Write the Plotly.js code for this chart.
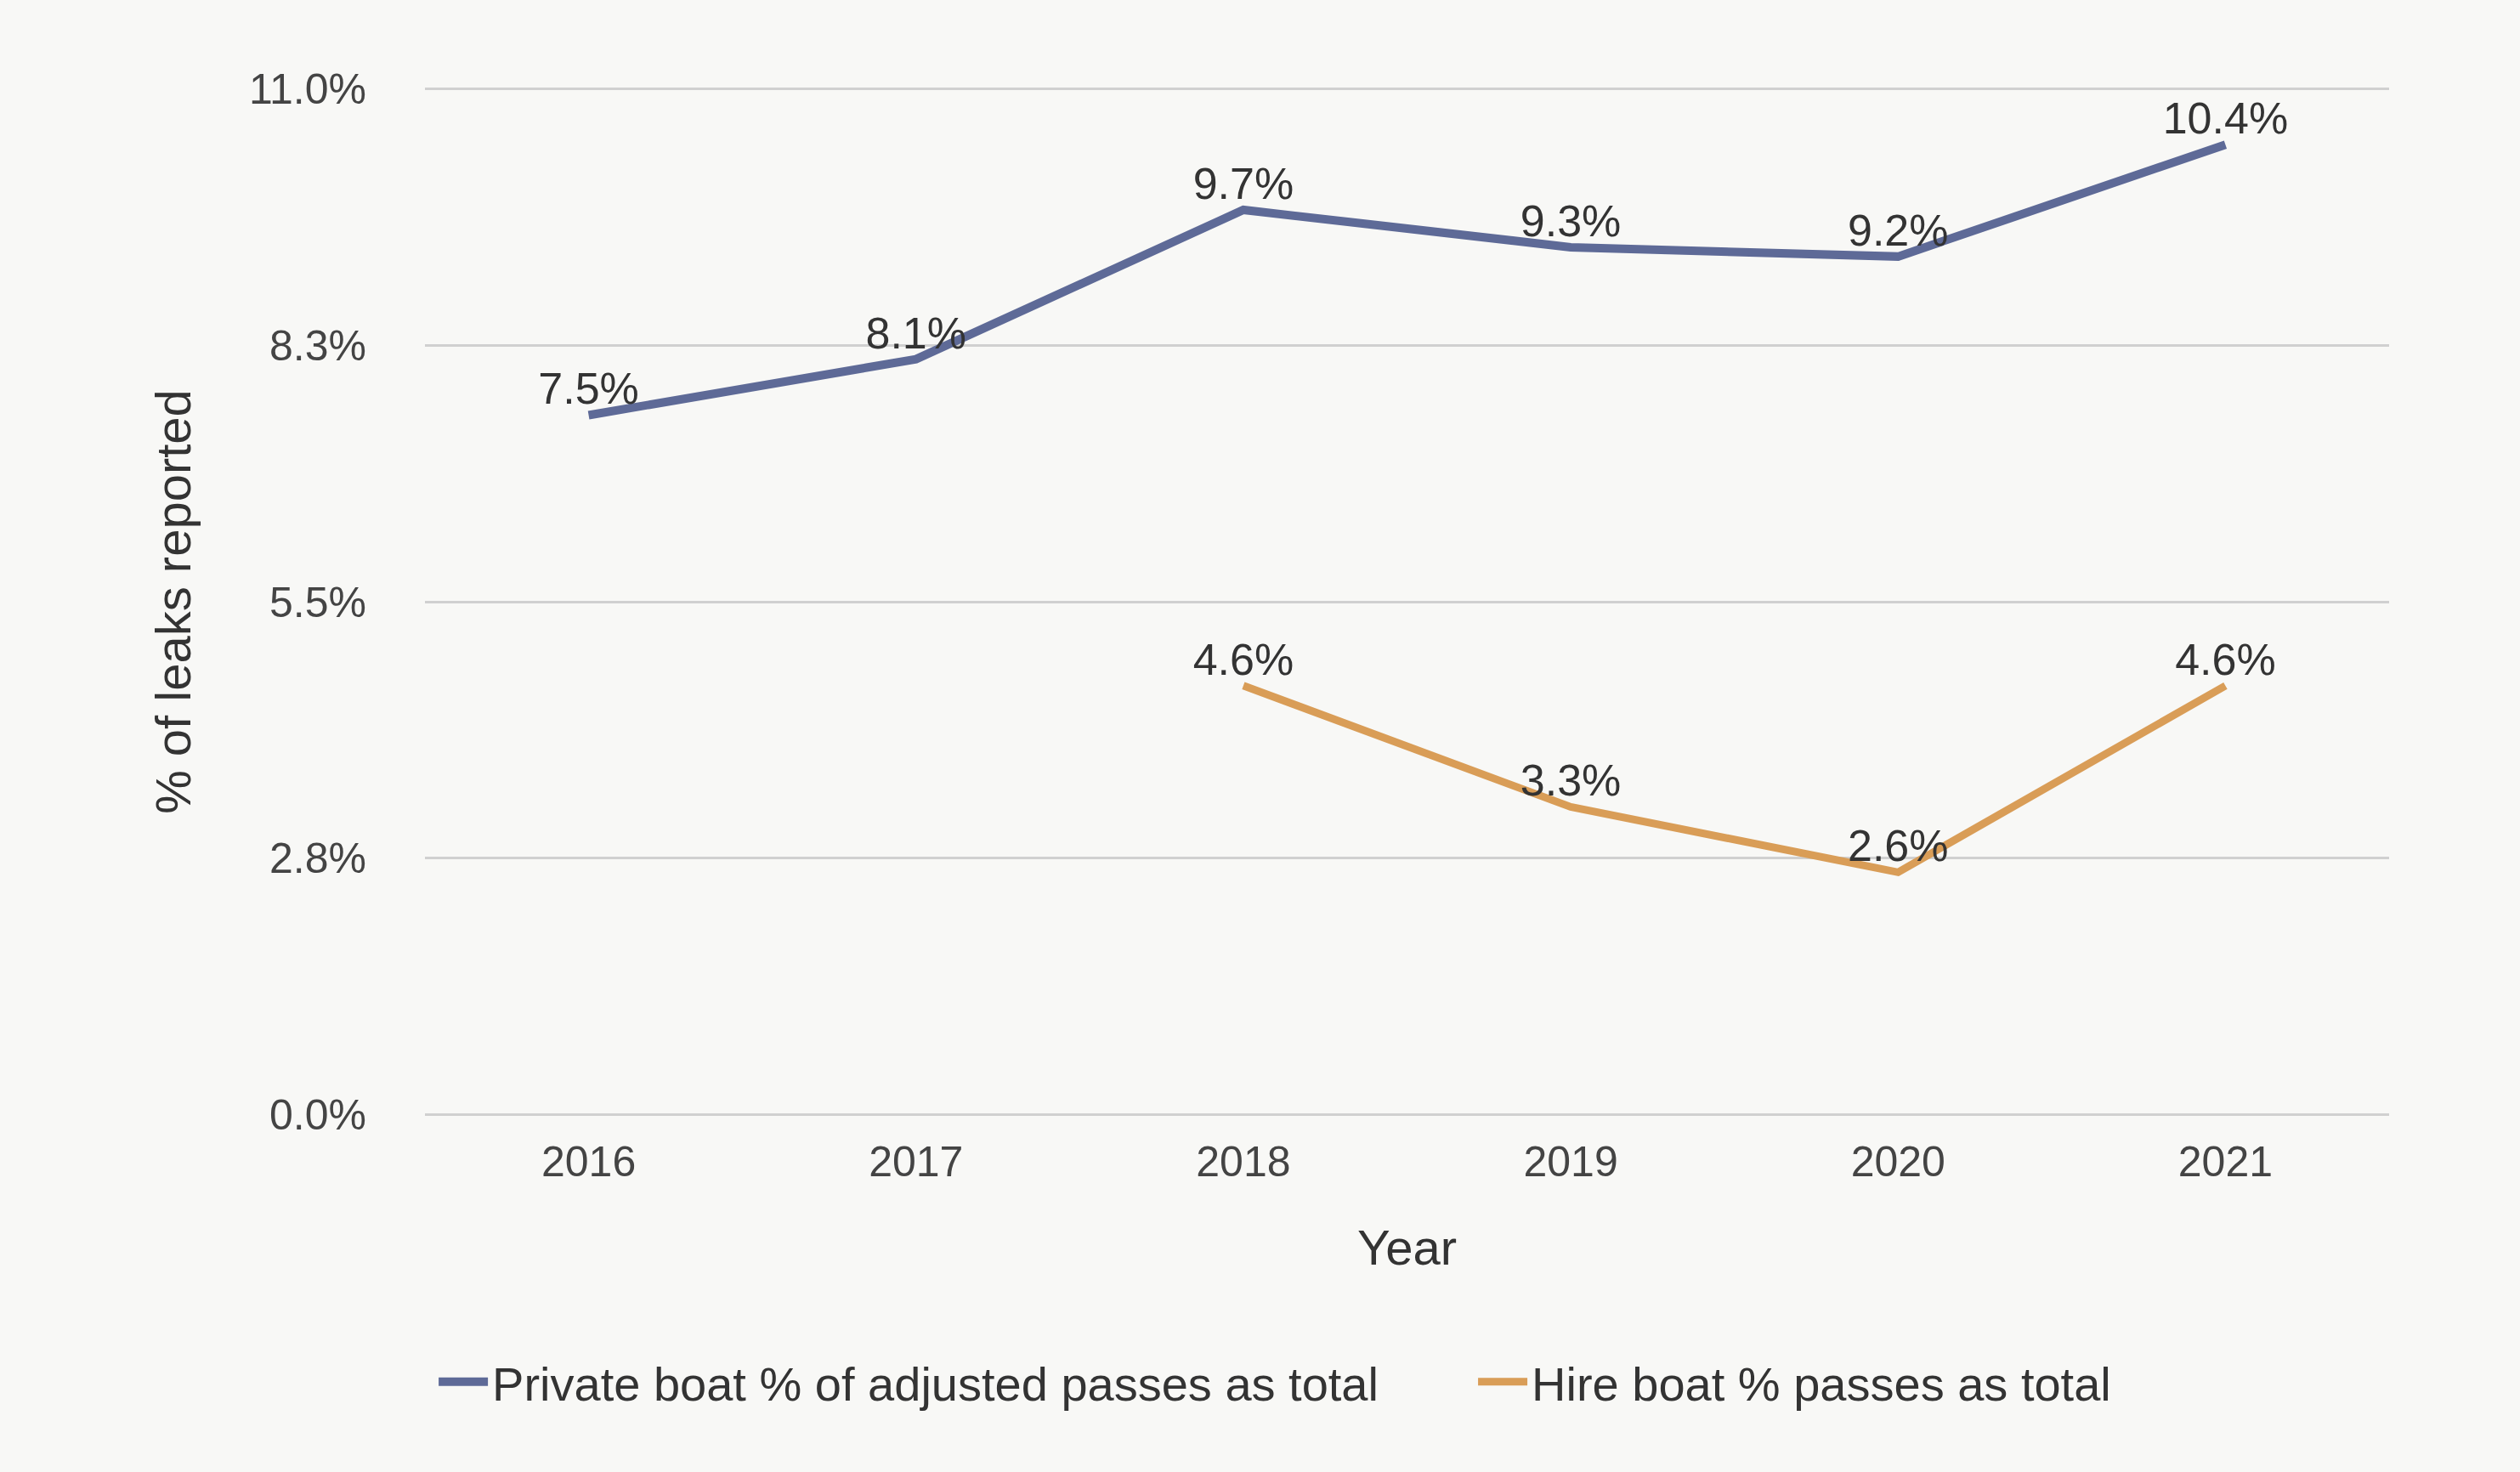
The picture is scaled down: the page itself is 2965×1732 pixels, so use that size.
<!DOCTYPE html>
<html>
<head>
<meta charset="utf-8">
<script src="https://cdn.plot.ly/plotly-3.0.1.min.js"></script>
<style>
  html, body { margin: 0; padding: 0; background: #f8f8f6; }
  #chart { width: 2965px; height: 1732px; }
</style>
</head>
<body>
<div id="chart"></div>
<script>
const years = ['2016', '2017', '2018', '2019', '2020', '2021'];
const privateBoat = [7.5, 8.1, 9.7, 9.3, 9.2, 10.4];
const hireBoat = [null, null, 4.6, 3.3, 2.6, 4.6];
const seriesNames = ['Private boat % of adjusted passes as total', 'Hire boat % passes as total'];
const yTickVals = [0, 2.75, 5.5, 8.25, 11];
const yTickText = ['0.0%', '2.8%', '5.5%', '8.3%', '11.0%'];

const font = 'Liberation Sans, Arial, sans-serif';

function labels(arr) { return arr.map(v => v === null ? '' : v.toFixed(1) + '%'); }

const traces = [
  {
    x: years, y: privateBoat, name: seriesNames[0], type: 'scatter', mode: 'lines+text',
    line: { color: '#5e6a97', width: 10 },
    text: labels(privateBoat), textposition: 'top center',
    textfont: { family: font, size: 52, color: '#333333' },
    cliponaxis: false, legend: 'legend'
  },
  {
    x: years, y: hireBoat, name: seriesNames[1], type: 'scatter', mode: 'lines+text',
    line: { color: '#d99d57', width: 9 },
    text: labels(hireBoat), textposition: 'top center',
    textfont: { family: font, size: 52, color: '#333333' },
    cliponaxis: false, legend: 'legend2'
  }
];

const legendBase = {
  orientation: 'h', xref: 'paper', xanchor: 'left', y: -0.256, yanchor: 'middle',
  font: { family: font, size: 56, color: '#333333' },
  bgcolor: 'rgba(0,0,0,0)', itemwidth: 58
};

const layout = {
  width: 2965, height: 1732,
  paper_bgcolor: '#f8f8f6', plot_bgcolor: '#f8f8f6',
  font: { family: font, color: '#444444', size: 52 },
  margin: { l: 500, r: 154, t: 101, b: 417 },
  showlegend: true,
  legend: Object.assign({}, legendBase, { x: 0.0048 }),
  legend2: Object.assign({}, legendBase, { x: 0.534 }),
  xaxis: {
    type: 'category', range: [-0.5, 5.5],
    showgrid: false, zeroline: false, showline: false,
    ticks: '', ticklabelstandoff: 18,
    tickfont: { family: font, size: 50, color: '#444444' },
    title: { text: 'Year', font: { family: font, size: 58, color: '#333333' }, standoff: 53 }
  },
  yaxis: {
    range: [-0.03, 11.03], tickvals: yTickVals, ticktext: yTickText,
    showgrid: true, gridcolor: '#d0d0d0', gridwidth: 3,
    zeroline: false, showline: false, ticks: '', ticklabelstandoff: 68,
    tickfont: { family: font, size: 50, color: '#444444' },
    title: { text: '% of leaks reported', font: { family: font, size: 58, color: '#333333' }, standoff: 49 }
  }
};

Plotly.newPlot('chart', traces, layout, { displayModeBar: false, staticPlot: true });
</script>
</body>
</html>
